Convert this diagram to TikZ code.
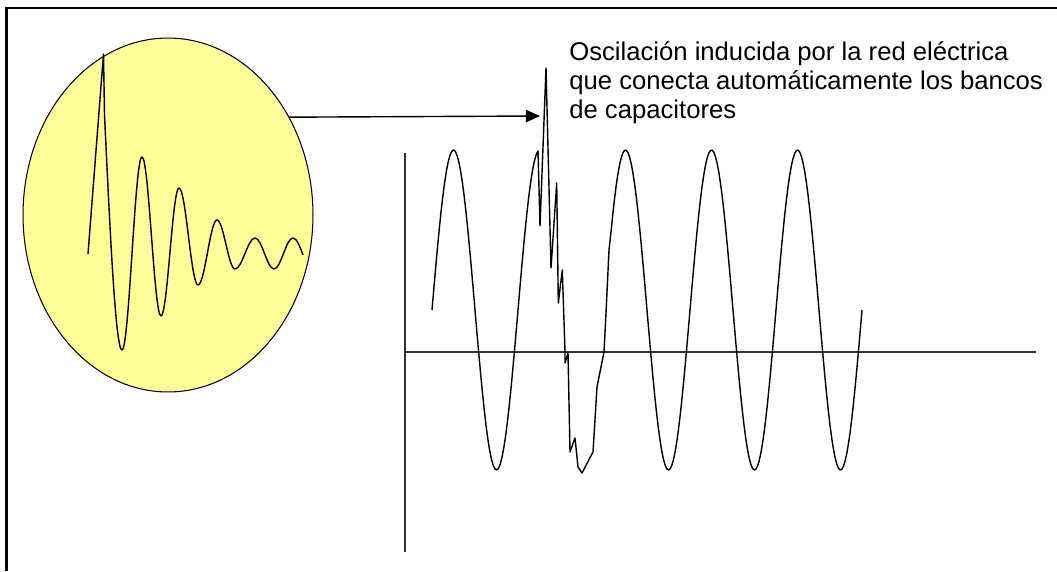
\documentclass[tikz,border=0pt]{standalone}
\usepackage{fontspec}
\setmainfont{Liberation Sans}
\usepackage{xcolor}
\usepackage{tikz}
\usetikzlibrary{shapes.geometric, arrows.meta, positioning}

\definecolor{lensyellow}{RGB}{255,255,153}

\tikzset{
  %% Magnifier ellipse
  lens/.style={
    ellipse, draw=black, fill=lensyellow,
    minimum width=5.8cm, minimum height=7.08cm,
    inner sep=0pt, outer sep=0pt, line width=0.6pt
  },
  %% Signal curve
  wave/.style={draw=black, line width=0.8pt, line join=round},
  %% Axis line
  axisline/.style={draw=black!80, line width=0.7pt},
  %% Arrow
  arr/.style={-{Triangle[length=8pt,width=7pt]},
              draw=black, line width=0.8pt},
  %% Caption text
  caption/.style={
    align=left, inner sep=0pt, anchor=base west,
    font=\fontsize{14.6}{16.3}\selectfont
  },
}

\begin{document}
\begin{tikzpicture}[x=0.02cm, y=-0.02cm]

  \useasboundingbox (0,0) rectangle (1057,571);

  %% Frame
  \draw[line width=1.2pt] (6.5,571) -- (6.5,8) -- (1057,8);

  %% Zoomed view of the transient
  \node[lens] (lens) at (168,215) {};
  \draw[wave] (88,254) -- (103.5,54) -- (104.5,115)
    sin (122,350) cos (132,253.5) sin (142,157) cos (151.5,236.5)
    sin (161,316) cos (170,252)   sin (179,188) cos (188.5,236.5)
    sin (198,285) cos (207.5,252.5) sin (217,220) cos (226,244.5)
    sin (235,269) cos (245,253.5) sin (255,238) cos (264.5,253.5)
    sin (274,269) cos (283.5,253.5) sin (293,238) cos (303,255);

  %% Axes
  \coordinate (origin) at (405,352);
  \coordinate (ytop)   at (405,153);
  \coordinate (ybot)   at (405,552);
  \coordinate (xend)   at (1036,352);
  \draw[axisline] (ytop) -- (ybot);
  \draw[axisline] (origin) -- (xend);

  %% Line voltage with switching transient
  \draw[wave] plot[domain=432:538, samples=60]
      (\x, {310-160*sin((\x-432)*4.186047)})
    -- (540,226) -- (546,68) -- (551,268) -- (556.7,183)
    -- (558.3,303) -- (562.3,270) -- (565,352) -- (565,363)
    -- (568,353) -- (570,452) -- (575,438) -- (578,467)
    -- (582,473) -- (593,452) -- (597,387) -- (604,352)
    -- (606,313) -- (609,250)
    -- plot[domain=611:862, samples=150]
      (\x, {310-160*sin((\x-432)*4.186047)});

  %% Pointer from the zoomed view to the transient
  \coordinate (spike) at (540,116);
  \draw[arr] (lens.39.5) -- (spike);

  %% Caption
  \node[caption] (note) at (569,118)
        {Oscilación inducida por la red eléctrica\\
         que conecta automáticamente los bancos\\
         de capacitores};

\end{tikzpicture}
\end{document}
